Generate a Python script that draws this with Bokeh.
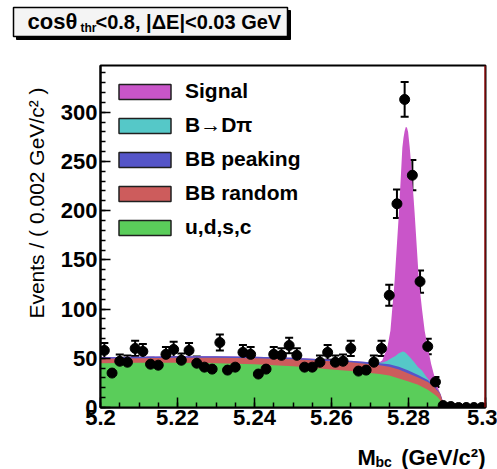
import numpy as np
from bokeh.plotting import figure
from bokeh.layouts import column
from bokeh.models import (FixedTicker, Label, Legend, LegendItem, Title,
                          ColumnDataSource, Whisker, TeeHead, Span)
from bokeh.embed import file_html
from bokeh.resources import INLINE

# ---------------- data ----------------
bin_lo = 5.2
bin_width = 0.002
counts = [58, 35, 47, 46, 60, 57, 44, 43, 54, 59,
          48, 58, 45, 41, 39, 66, 38, 41, 56, 54,
          34, 39, 54, 53, 63, 53, 41, 41, 46, 56,
          46, 47, 60, 37, 38, 46, 60, 114, 207, 313,
          236, 128, 62, 26, 2, 1, 0, 0, 0, 0]

# background components (cumulative tops)
m_bkg = [5.200, 5.210, 5.220, 5.230, 5.240, 5.250, 5.255, 5.260, 5.265, 5.270,
         5.2725, 5.275, 5.2775, 5.280, 5.2825, 5.285, 5.2865, 5.2875, 5.2882,
         5.2888, 5.2893, 5.2900, 5.3000]
udsc_top = [45, 45.5, 45.5, 45, 44, 42, 40.5, 38.5, 37, 35,
            34, 32.5, 29.5, 26.5, 23, 18, 14, 11, 7.5,
            3, 0, 0, 0]
bbrand_top = [49.5, 50, 50.5, 50.5, 50, 49, 48, 47, 46, 44,
              43, 41.5, 38.5, 34.5, 30.5, 26, 21.5, 17, 14,
              7, 1.5, 0, 0]
bbpeak_top = [51, 51.5, 52, 52, 51.5, 50.5, 49.5, 48.5, 47.5, 46,
              45, 44, 41.5, 37.5, 33, 28, 23, 18, 14.5,
              7.5, 1.5, 0, 0]

# B -> D pi (cumulative top)
m_dpi = [5.2700, 5.2725, 5.2735, 5.2745, 5.2755, 5.2765, 5.2775, 5.2785, 5.2790,
         5.2795, 5.2800, 5.2805, 5.2815, 5.2825, 5.2835, 5.2845, 5.2855, 5.2865]
dpi_top = [46, 45.5, 46, 47.5, 50, 52, 55, 57, 56.5,
           54.5, 52.5, 50.5, 46, 41, 37.5, 32, 27, 23]

# total (signal on top)
m_sig = [5.2000, 5.2100, 5.2200, 5.2300, 5.2400, 5.2500, 5.2600, 5.2700,
         5.2725, 5.2732, 5.2745, 5.2753, 5.2764, 5.2775, 5.2784, 5.2787,
         5.2790, 5.2793, 5.2796, 5.2799, 5.2803, 5.2808, 5.2816, 5.2827,
         5.2835, 5.2842, 5.2849, 5.2859, 5.2868, 5.2878, 5.2885, 5.2893,
         5.2900, 5.3000]
sig_top = [51, 51.5, 52, 52, 51.5, 50.5, 48.5, 46,
           46, 48, 61, 78, 129, 197, 264, 274,
           281, 285, 284.5, 280, 265, 242, 197, 129,
           100, 78, 63, 44, 30.5, 18.5, 12, 1.5,
           0, 0]

x_ticks = [5.2, 5.22, 5.24, 5.26, 5.28, 5.3]
x_tick_labels = ["5.2", "5.22", "5.24", "5.26", "5.28", "5.3"]
y_ticks = [0, 50, 100, 150, 200, 250, 300]
y_tick_labels = ["0", "50", "100", "150", "200", "250", "300"]

legend_labels = ["Signal", "B\u2192D\u03c0", "BB peaking", "BB random", "u,d,s,c"]
colors = ["#c955c9", "#55c8c8", "#5555c8", "#cd5c5c", "#5acd5a"]

FONT = "Liberation Sans"

# ---------------- layout constants ----------------
W, H = 497, 469
TH = 45                                     # title strip height
BH = 30                                     # x-title strip height
FL, FR, FT, FB = 100, 485, 65, 407          # frame edges in page pixels
X0, X1, Y0, Y1 = 5.2, 5.3, 0.0, 347.5
SHIFT = 6                                   # baseline correction for labels


def strip(height):
    f = figure(width=W, height=height, x_range=(0, W), y_range=(height, 0),
               output_backend="svg", toolbar_location=None,
               x_axis_type=None, y_axis_type=None,
               min_border_left=0, min_border_right=0, min_border_top=0,
               min_border_bottom=0)
    f.grid.visible = False
    f.outline_line_color = None
    f.background_fill_color = "white"
    f.border_fill_color = "white"
    f.frame_align = False
    return f


def text(fig, x, y, s, size, align="left", style="bold"):
    fig.add_layout(Label(x=x, y=y - SHIFT, text=s, text_align=align,
                         text_baseline="alphabetic", text_font=FONT,
                         text_font_style=style, text_font_size=size,
                         text_color="black"))


# ---------------- title strip ----------------
t = strip(TH)
t.quad(left=[16], right=[290], top=[10], bottom=[39], fill_color="black",
       line_color="black")
t.quad(left=[13], right=[287], top=[7], bottom=[36], fill_color="#f4f4f4",
       line_color="black", line_width=1.5)
text(t, 27, 27, "cos", "22px")
text(t, 65, 27, "\u03b8", "22px")
text(t, 80, 33, "thr", "12px")
text(t, 95, 27, "<0.8, |\u0394E|<0.03 GeV", "20px")

# ---------------- x-title strip ----------------
b = strip(BH)
BY = H - BH
text(b, 357, 463 - BY, "M", "22px")
text(b, 375, 467 - BY, "bc", "14px")
text(b, 485, 463 - BY, "(GeV/c\u00b2)", "22px", align="right")

# ---------------- main figure ----------------
p = figure(width=W, height=H - TH - BH, x_range=(X0, X1), y_range=(Y0, Y1),
           output_backend="svg", toolbar_location=None,
           min_border_left=FL, min_border_right=W - FR,
           min_border_top=FT - TH, min_border_bottom=(H - BH) - FB)
p.frame_align = False
p.grid.visible = False
p.background_fill_color = "white"
p.border_fill_color = "white"
p.outline_line_color = "black"
p.outline_line_width = 2

# stacked areas (drawn from total down to the lowest component)
layers = [(m_sig, sig_top, colors[0]),
          (m_dpi, dpi_top, colors[1]),
          (m_bkg, bbpeak_top, colors[2]),
          (m_bkg, bbrand_top, colors[3]),
          (m_bkg, udsc_top, colors[4])]
for xs, ys, c in layers:
    p.varea(x=xs, y1=0, y2=ys, fill_color=c)

# data points with Poisson errors
cnt = np.array(counts, dtype=float)
centers = bin_lo + bin_width * (np.arange(len(cnt)) + 0.5)
err = np.sqrt(cnt)
src = ColumnDataSource(dict(x=centers, y=cnt, lo=cnt - err, hi=cnt + err))
wh = Whisker(source=src, base="x", lower="lo", upper="hi",
             line_color="black", line_width=2,
             upper_head=TeeHead(size=8, line_width=2, line_color="black"),
             lower_head=TeeHead(size=8, line_width=2, line_color="black"))
p.add_layout(wh)
p.scatter("x", "y", source=src, size=10, color="black")

# right frame edge (red)
p.add_layout(Span(location=X1, dimension="height", line_color="#cc1010", line_width=2))

# axes
p.xaxis.ticker = FixedTicker(ticks=x_ticks,
                             minor_ticks=[5.2 + 0.005 * k for k in range(21)])
p.yaxis.ticker = FixedTicker(ticks=y_ticks,
                             minor_ticks=[10 * k for k in range(35)])
p.xaxis.major_label_overrides = dict(zip(x_ticks, x_tick_labels))
p.yaxis.major_label_overrides = dict(zip(y_ticks, y_tick_labels))
for ax in (p.xaxis[0], p.yaxis[0]):
    ax.major_tick_in = 10
    ax.major_tick_out = 0
    ax.minor_tick_in = 5
    ax.minor_tick_out = 0
    ax.axis_line_width = 2
    ax.major_tick_line_width = 1.5
    ax.minor_tick_line_width = 1.5
    ax.major_label_text_font = FONT
    ax.major_label_text_font_style = "bold"
    ax.major_label_text_font_size = "22px"
    ax.major_label_text_color = "black"
p.xaxis.major_label_standoff = 2
p.yaxis.major_label_standoff = 3

# y-axis title, aligned to the top end of the axis
p.add_layout(Title(text="Events / ( 0.002 GeV/c\u00b2 )", align="right",
                   offset=22, standoff=19, text_font=FONT,
                   text_font_style="normal", text_font_size="21px",
                   text_color="black"), "left")

# legend (swatch renderers carry no visible marks)
items = []
for lab, c in zip(legend_labels, colors):
    r = p.quad(left=[np.nan], right=[np.nan], top=[np.nan], bottom=[np.nan],
               fill_color=c, line_color="#202020", line_width=1.5)
    items.append(LegendItem(label=lab, renderers=[r]))
leg = Legend(items=items, location=(12, 168), padding=0, margin=0,
             border_line_color=None, background_fill_alpha=0,
             glyph_width=65, glyph_height=19, label_height=24, spacing=10,
             label_standoff=8, label_text_font=FONT, label_text_color="black",
             label_text_font_style="bold", label_text_font_size="21px")
p.add_layout(leg)

layout = column(t, p, b, spacing=0)
open("out.html", "w").write(file_html(layout, INLINE))
